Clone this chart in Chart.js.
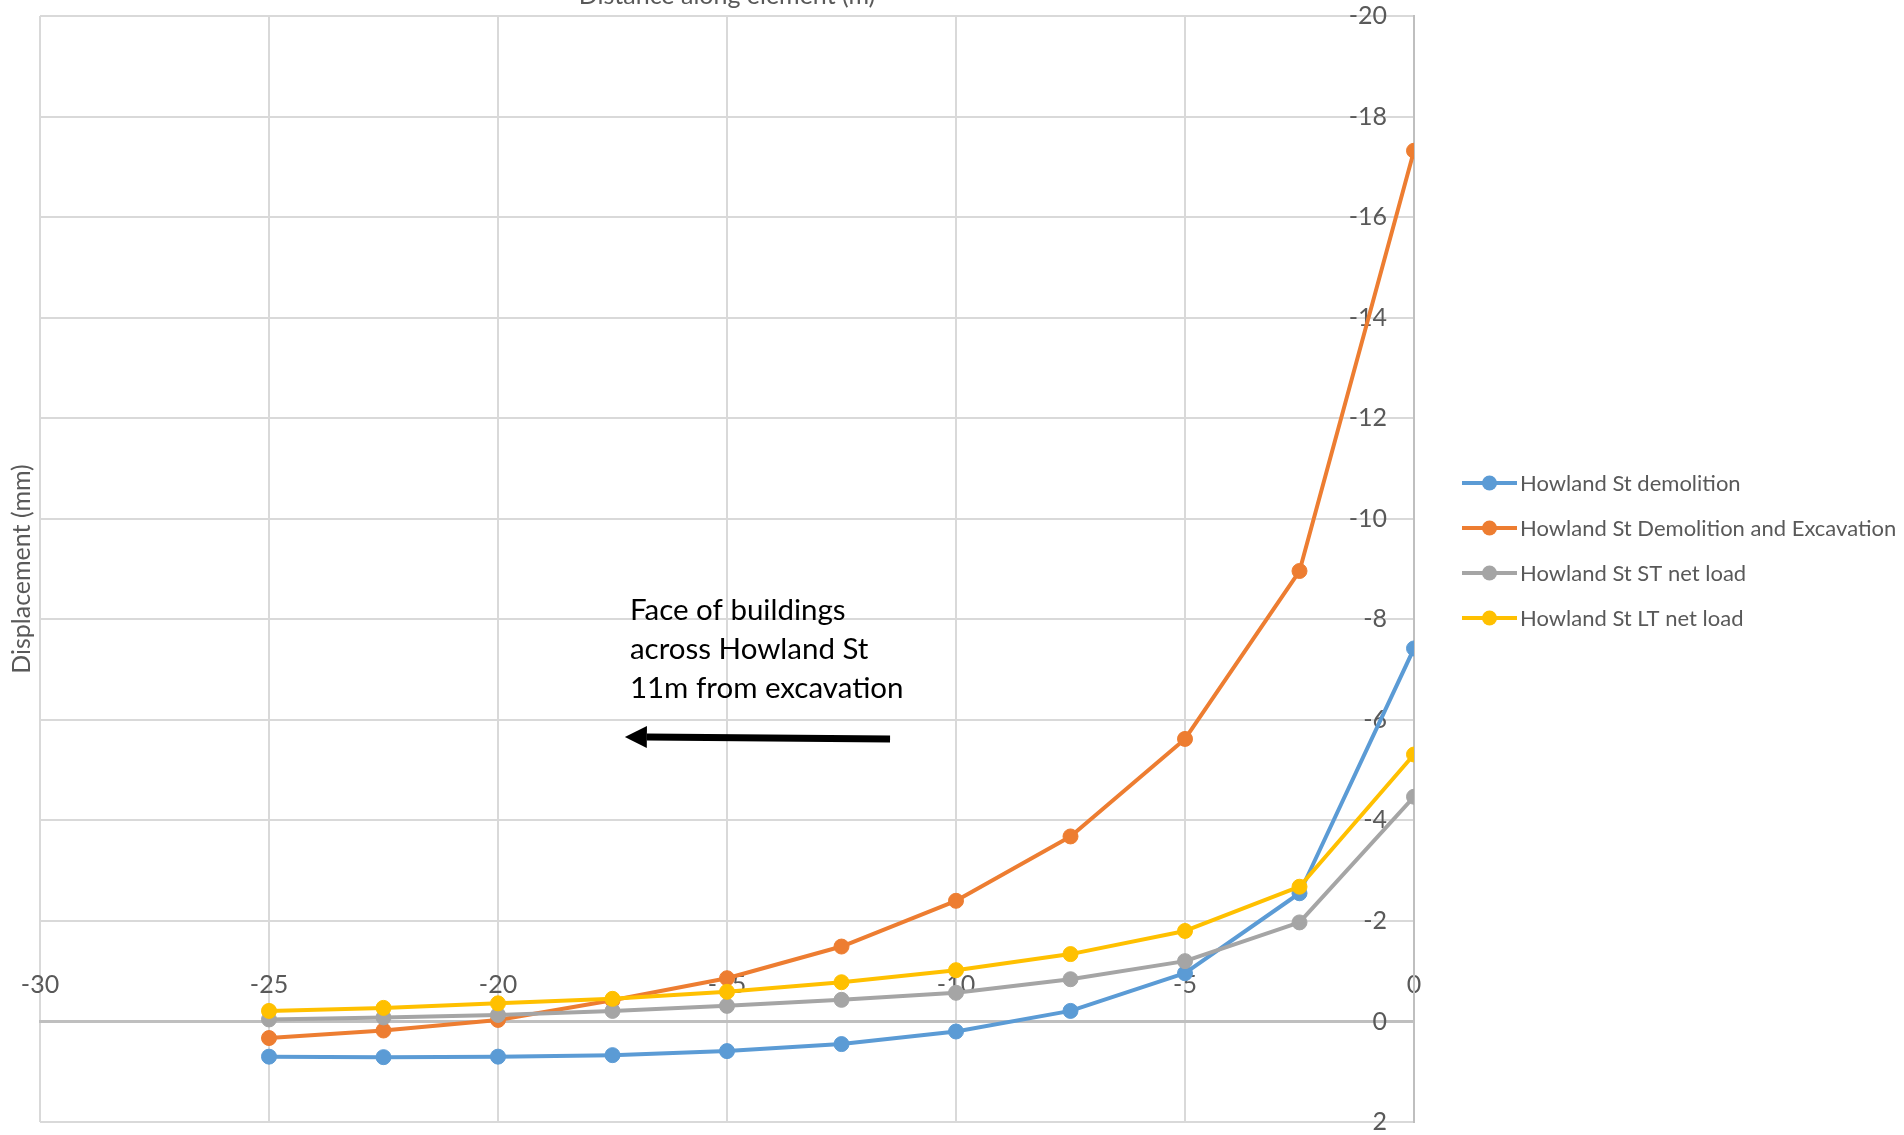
<!DOCTYPE html>
<html>
<head>
<meta charset="utf-8">
<title>Howland St displacement</title>
<script src="https://cdn.jsdelivr.net/npm/chart.js@4.4.1/dist/chart.umd.min.js"></script>
<style>
  html, body { margin: 0; padding: 0; background: #ffffff; overflow: hidden; }
  canvas { display: block; }
</style>
</head>
<body>
<canvas id="chart" width="1904" height="1135"></canvas>
<script>
// Distance along element (m)
const distances = [-25, -22.5, -20, -17.5, -15, -12.5, -10, -7.5, -5, -2.5, 0];

// Displacement (mm) for each stage
const demolition           = [0.70, 0.71, 0.70, 0.67, 0.59, 0.45, 0.20, -0.21, -0.96, -2.55, -7.42];
const demolitionExcavation = [0.33, 0.18, -0.03, -0.42, -0.86, -1.49, -2.40, -3.68, -5.62, -8.96, -17.32];
const stNetLoad            = [-0.04, -0.08, -0.13, -0.21, -0.31, -0.43, -0.57, -0.84, -1.20, -1.97, -4.47];
const ltNetLoad            = [-0.21, -0.27, -0.36, -0.45, -0.59, -0.78, -1.02, -1.34, -1.80, -2.68, -5.31];

const seriesNames = [
  'Howland St demolition',
  'Howland St Demolition and Excavation',
  'Howland St ST net load',
  'Howland St LT net load'
];
const seriesValues = [demolition, demolitionExcavation, stNetLoad, ltNetLoad];
const seriesColors = ['#5B9BD5', '#ED7D31', '#A5A5A5', '#FFC000'];

// Axis ticks
const xTickValues = [-30, -25, -20, -15, -10, -5, 0];
const yTickValues = [-20, -18, -16, -14, -12, -10, -8, -6, -4, -2, 0, 2];

// Callout text and arrow (in data units)
const noteLines = ['Face of buildings', 'across Howland St', '11m from excavation'];
const noteAnchor = { x: -17.12, y: -8.18 };
const arrowFrom = { x: -11.44, y: -5.62 };
const arrowTo   = { x: -17.23, y: -5.66 };

Chart.defaults.font.family = 'Lato, "Open Sans", sans-serif';
Chart.defaults.color = '#595959';

const datasets = seriesNames.map((name, i) => ({
  label: name,
  data: distances.map((d, k) => ({ x: d, y: seriesValues[i][k] })),
  borderColor: seriesColors[i],
  backgroundColor: seriesColors[i],
  pointBackgroundColor: seriesColors[i],
  pointBorderColor: seriesColors[i],
  pointRadius: 7.5,
  pointBorderWidth: 1,
  borderWidth: 4,
  borderJoinStyle: 'round',
  tension: 0,
  order: seriesNames.length - i
}));

// Callout, arrow and legend drawn on top of the plot
const overlay = {
  id: 'overlay',
  afterDatasetsDraw(chart) {
    const { ctx, scales: { x, y } } = chart;
    ctx.save();
    // callout text
    ctx.fillStyle = '#000000';
    ctx.font = '29.5px Lato, "Open Sans", sans-serif';
    ctx.textAlign = 'left';
    ctx.textBaseline = 'middle';
    const tx = x.getPixelForValue(noteAnchor.x);
    const ty = y.getPixelForValue(noteAnchor.y);
    noteLines.forEach((line, i) => ctx.fillText(line, tx, ty + i * 39));
    // arrow
    const x1 = x.getPixelForValue(arrowFrom.x), y1 = y.getPixelForValue(arrowFrom.y);
    const x2 = x.getPixelForValue(arrowTo.x),   y2 = y.getPixelForValue(arrowTo.y);
    const ang = Math.atan2(y2 - y1, x2 - x1);
    const headLen = 22, headHalf = 11;
    const bx = x2 - headLen * Math.cos(ang), by = y2 - headLen * Math.sin(ang);
    ctx.strokeStyle = '#000000';
    ctx.lineWidth = 7;
    ctx.lineCap = 'butt';
    ctx.beginPath();
    ctx.moveTo(x1, y1);
    ctx.lineTo(bx, by);
    ctx.stroke();
    ctx.beginPath();
    ctx.moveTo(x2, y2);
    ctx.lineTo(bx - headHalf * Math.sin(ang), by + headHalf * Math.cos(ang));
    ctx.lineTo(bx + headHalf * Math.sin(ang), by - headHalf * Math.cos(ang));
    ctx.closePath();
    ctx.fillStyle = '#000000';
    ctx.fill();
    ctx.restore();
  },
  afterDraw(chart) {
    const { ctx } = chart;
    const left = chart.chartArea.right + 48;
    const top = 483, step = 45;
    ctx.save();
    ctx.font = '22px Lato, "Open Sans", sans-serif';
    ctx.textAlign = 'left';
    ctx.textBaseline = 'middle';
    chart.data.datasets.forEach((ds, i) => {
      const cy = top + i * step;
      ctx.strokeStyle = ds.borderColor;
      ctx.lineWidth = 4;
      ctx.beginPath();
      ctx.moveTo(left, cy);
      ctx.lineTo(left + 55, cy);
      ctx.stroke();
      ctx.fillStyle = ds.borderColor;
      ctx.beginPath();
      ctx.arc(left + 27.5, cy, 7.5, 0, Math.PI * 2);
      ctx.fill();
      ctx.fillStyle = '#595959';
      ctx.fillText(ds.label, left + 58, cy + 1);
    });
    ctx.restore();
  }
};

new Chart(document.getElementById('chart'), {
  type: 'line',
  data: { datasets },
  plugins: [overlay],
  options: {
    responsive: false,
    animation: false,
    devicePixelRatio: 1,
    layout: { padding: { top: 0, right: 490, bottom: 13, left: 0 } },
    plugins: {
      legend: { display: false },
      tooltip: { enabled: false },
      title: {
        display: true,
        text: 'Distance along element (m)',
        position: 'top',
        fullSize: false,
        color: '#595959',
        font: { size: 25, weight: 'normal' },
        padding: { top: -19, bottom: 5 }
      }
    },
    scales: {
      x: {
        type: 'linear',
        min: -30,
        max: 0,
        position: { y: 0 },
        afterBuildTicks: s => { s.ticks = xTickValues.map(v => ({ value: v })); },
        afterFit: s => { s.paddingLeft = 0; s.paddingRight = 0; s.paddingTop = 0; s.paddingBottom = 0; },
        grid: { color: '#d9d9d9', lineWidth: 2, drawTicks: false },
        border: { display: true, color: '#bfbfbf', width: 3 },
        ticks: { padding: -52, color: '#595959', font: { size: 25 }, maxRotation: 0, autoSkip: false }
      },
      y: {
        type: 'linear',
        position: 'right',
        reverse: true,
        min: -20,
        max: 2,
        afterBuildTicks: s => { s.ticks = yTickValues.map(v => ({ value: v })); },
        afterFit: s => { s.width = 0; s.paddingTop = 0; s.paddingBottom = 0; },
        grid: { color: '#d9d9d9', lineWidth: 2, drawTicks: false },
        border: { display: true, color: '#bfbfbf', width: 2 },
        ticks: { mirror: true, padding: -27, color: '#595959', font: { size: 25 } }
      },
      yTitle: {
        type: 'linear',
        position: 'left',
        grid: { display: false },
        border: { display: false },
        ticks: { display: false },
        title: {
          display: true,
          text: 'Displacement (mm)',
          color: '#595959',
          font: { size: 25 },
          padding: { top: 7, bottom: 0 }
        },
        afterFit: s => { s.width = 40; }
      }
    }
  }
});
</script>
</body>
</html>
